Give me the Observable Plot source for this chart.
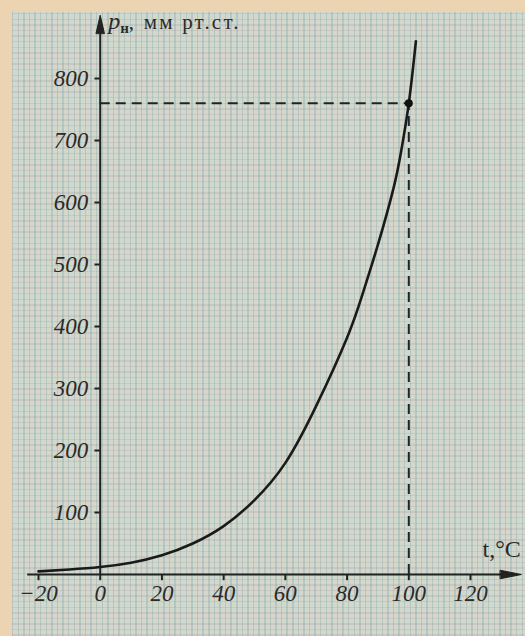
<!DOCTYPE html>
<html><head><meta charset="utf-8">
<script src="https://cdn.jsdelivr.net/npm/d3@7"></script>
<script src="https://cdn.jsdelivr.net/npm/@observablehq/plot@0.6"></script>
<style>
html,body{margin:0;padding:0;background:#ecd4b2;width:525px;height:636px;overflow:hidden}
#paper{position:absolute;left:12px;top:12px;right:0;bottom:0;background-color:#d3d8cc;
background-image:
 repeating-linear-gradient(90deg, rgba(120,168,175,.34) 0 1.5px, transparent 1.5px 5.6px),
 repeating-linear-gradient(0deg, rgba(190,150,160,.28) 0 1.5px, transparent 1.5px 5.6px);}
#chart{position:absolute;left:0;top:0}
</style></head><body><div id="paper"></div><div id="chart"></div>
<script>
// Saturated vapour pressure of water vs temperature
const temperature = [-20, -10, 0, 10, 20, 30, 40, 50, 60, 70, 80, 85, 90, 95, 97.5, 100, 102.3];
const pressure    = [5, 8, 12, 19, 31, 50, 78, 120, 180, 272, 382, 452, 532, 622, 682, 760, 860];
const xTicks = [-20, 0, 20, 40, 60, 80, 100, 120];
const yTicks = [100, 200, 300, 400, 500, 600, 700, 800];
const boilingT = [100];
const boilingP = [760];
const yLabelVar = "p", yLabelSub = "н", yLabelUnit = ", мм рт.ст.";
const xLabel = "t,°C";

const curve = temperature.map((t, i) => ({t, p: pressure[i]}));
const ink = "#222";
const tickFont = {fontFamily: "Liberation Serif", fontStyle: "italic", fontSize: 23, fill: "#2a2a2a"};
const triangle = {draw(ctx, l) { ctx.moveTo(-4.2, 0); ctx.lineTo(0, -l); ctx.lineTo(4.2, 0); ctx.closePath(); }};

const svg = Plot.plot({
  width: 525, height: 636,
  marginTop: 78, marginBottom: 62, marginLeft: 38, marginRight: 55,
  x: {domain: [-20, 120], axis: null},
  y: {domain: [0, 800], axis: null},
  style: {background: "transparent", overflow: "visible"},
  marks: [
    Plot.ruleY([0], {x1: -23.5, x2: 132, stroke: ink, strokeWidth: 2}),
    Plot.ruleX([0], {y1: -1, y2: 880, stroke: ink, strokeWidth: 2}),
    Plot.ruleX(xTicks, {x: d => d, y1: 0, y2: -10, stroke: ink, strokeWidth: 2}),
    Plot.ruleY(yTicks, {y: d => d, x1: -1.7, x2: 0, stroke: ink, strokeWidth: 2}),
    Plot.text(xTicks, {x: d => d, y: 0, dy: 10, lineAnchor: "top",
      text: d => d < 0 ? "\u2212" + Math.abs(d) : String(d), ...tickFont}),
    Plot.text(yTicks, {x: 0, y: d => d, dx: -12, textAnchor: "end", lineAnchor: "middle",
      text: d => String(d), ...tickFont}),
    Plot.ruleY(boilingP, {y: d => d, x1: 0, x2: boilingT[0], stroke: ink, strokeWidth: 2, strokeDasharray: "10,6"}),
    Plot.ruleX(boilingT, {x: d => d, y1: 0, y2: boilingP[0], stroke: ink, strokeWidth: 2, strokeDasharray: "10,6"}),
    Plot.line(curve, {x: "t", y: "p", curve: "natural", stroke: "#1a1a1a", strokeWidth: 2.6}),
    Plot.dot(boilingT.map((t, i) => ({t, p: boilingP[i]})), {x: "t", y: "p", r: 4, fill: "#111", stroke: "none"}),
    Plot.vector([{x: 0, y: 902}], {x: "x", y: "y", length: 18, rotate: 0, anchor: "end", shape: triangle, fill: ink, stroke: ink, strokeWidth: 1}),
    Plot.vector([{x: 136.5, y: 0}], {x: "x", y: "y", length: 21, rotate: 90, anchor: "end", shape: triangle, fill: ink, stroke: ink, strokeWidth: 1}),
    Plot.text([yLabelVar + yLabelSub + yLabelUnit], {x: 0, y: 880, dx: 8, textAnchor: "start", lineAnchor: "bottom",
      text: d => d, fontFamily: "Liberation Serif", fontSize: 20, fill: "#2a2a2a"}),
    Plot.text([xLabel], {x: 136.3, y: 0, dy: -18, textAnchor: "end", lineAnchor: "bottom",
      text: d => d, fontFamily: "Liberation Serif", fontSize: 24, fill: "#2a2a2a"})
  ]
});

// rich formatting of the y-axis label (italic p with subscript н)
d3.select(svg).selectAll("text").filter(function() { return this.textContent === yLabelVar + yLabelSub + yLabelUnit; })
  .each(function() {
    const t = d3.select(this);
    t.text(null);
    t.append("tspan").attr("font-style", "italic").attr("font-size", 24).text(yLabelVar);
    t.append("tspan").attr("font-size", 15).attr("dy", 4).attr("font-weight", "bold").text(yLabelSub);
    t.append("tspan").attr("dy", -4).attr("letter-spacing", 2.2).attr("font-size", 21).text(yLabelUnit);
  });

document.getElementById("chart").appendChild(svg);
</script>
</body></html>
